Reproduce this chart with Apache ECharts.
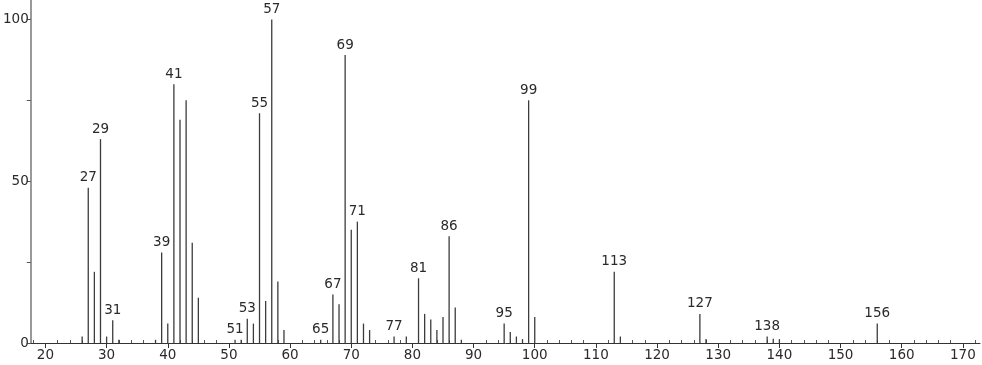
<!DOCTYPE html>
<html>
<head>
<meta charset="utf-8">
<script src="https://cdn.jsdelivr.net/npm/echarts@6/dist/echarts.min.js"></script>
<style>html,body{margin:0;padding:0;background:#fff}#c{width:982px;height:365px}</style>
</head>
<body>
<div id="c"></div>
<script>
// m/z values and relative intensities
var mz =        [26, 27, 28, 29, 30, 31, 32, 38, 39, 40, 41, 42, 43, 44, 45, 51, 52, 53, 54, 55, 56, 57, 58, 59, 65, 67, 68, 69, 70, 71, 72, 73, 77, 79, 81, 82, 83, 84, 85, 86, 87, 88, 95, 96, 97, 98, 99, 100, 113, 114, 127, 128, 138, 139, 140, 156];
var intensity = [2, 48, 22, 63, 2, 7, 1, 1, 28, 6, 80, 69, 75, 31, 14, 1, 1, 7.5, 6, 71, 13, 100, 19, 4, 1, 15, 12, 89, 35, 37.5, 6, 4, 2, 2, 20, 9, 7.3, 4, 8, 33, 11, 1, 6, 3.4, 2, 1.2, 75, 8, 22, 2, 9, 1.2, 2, 1.3, 1.2, 6];
var labeledPeaks = [27, 29, 31, 39, 41, 51, 53, 55, 57, 65, 67, 69, 71, 77, 81, 86, 95, 99, 113, 127, 138, 156];
var xMajorTicks = [20, 30, 40, 50, 60, 70, 80, 90, 100, 110, 120, 130, 140, 150, 160, 170];
var xMinorTicks = [];
for (var t = 18; t <= 172; t += 2) { if (t % 10 !== 0) xMinorTicks.push(t); }
var yTicks = [0, 25, 50, 75, 100];
var yLabels = [0, 50, 100];

var data = mz.map(function (m, i) {
  return {
    value: [m, intensity[i]],
    label: { show: labeledPeaks.indexOf(m) >= 0 }
  };
});

var font = 'DejaVu Sans';
var xMin = 17.6, xMax = 172.8;
var chart = echarts.init(document.getElementById('c'), null, { renderer: 'canvas' });
chart.setOption({
  animation: false,
  backgroundColor: '#fff',
  grid: { left: 29, right: 2, top: 0, bottom: 22, containLabel: false },
  xAxis: [{
    type: 'value', min: xMin, max: xMax,
    splitLine: { show: false },
    axisLine: { lineStyle: { color: '#333', width: 1 } },
    axisTick: { show: true, customValues: xMajorTicks, length: 5, lineStyle: { color: '#333' } },
    axisLabel: { customValues: xMajorTicks, color: '#2a2a2a', fontFamily: font, fontSize: 13.5, margin: 5 }
  }, {
    type: 'value', min: xMin, max: xMax, position: 'bottom',
    splitLine: { show: false },
    axisLine: { show: false },
    axisTick: { show: true, customValues: xMinorTicks, length: 3, inside: true, lineStyle: { color: '#555' } },
    axisLabel: { show: false }
  }],
  yAxis: {
    type: 'value', min: 0, max: 106,
    splitLine: { show: false },
    axisLine: { show: true, lineStyle: { color: '#999', width: 2 } },
    axisTick: { show: true, customValues: yTicks, length: 4, lineStyle: { color: '#555' } },
    axisLabel: { customValues: yLabels, color: '#2a2a2a', fontFamily: font, fontSize: 13.5, margin: 2 }
  },
  series: [{
    type: 'bar',
    xAxisIndex: 0,
    barWidth: 1.3,
    itemStyle: { color: '#3c3c3c' },
    label: {
      position: 'top', color: '#2a2a2a', fontFamily: font, fontSize: 13.5, distance: 3,
      formatter: function (p) { return String(p.value[0]); }
    },
    data: data
  }]
});
</script>
</body>
</html>
